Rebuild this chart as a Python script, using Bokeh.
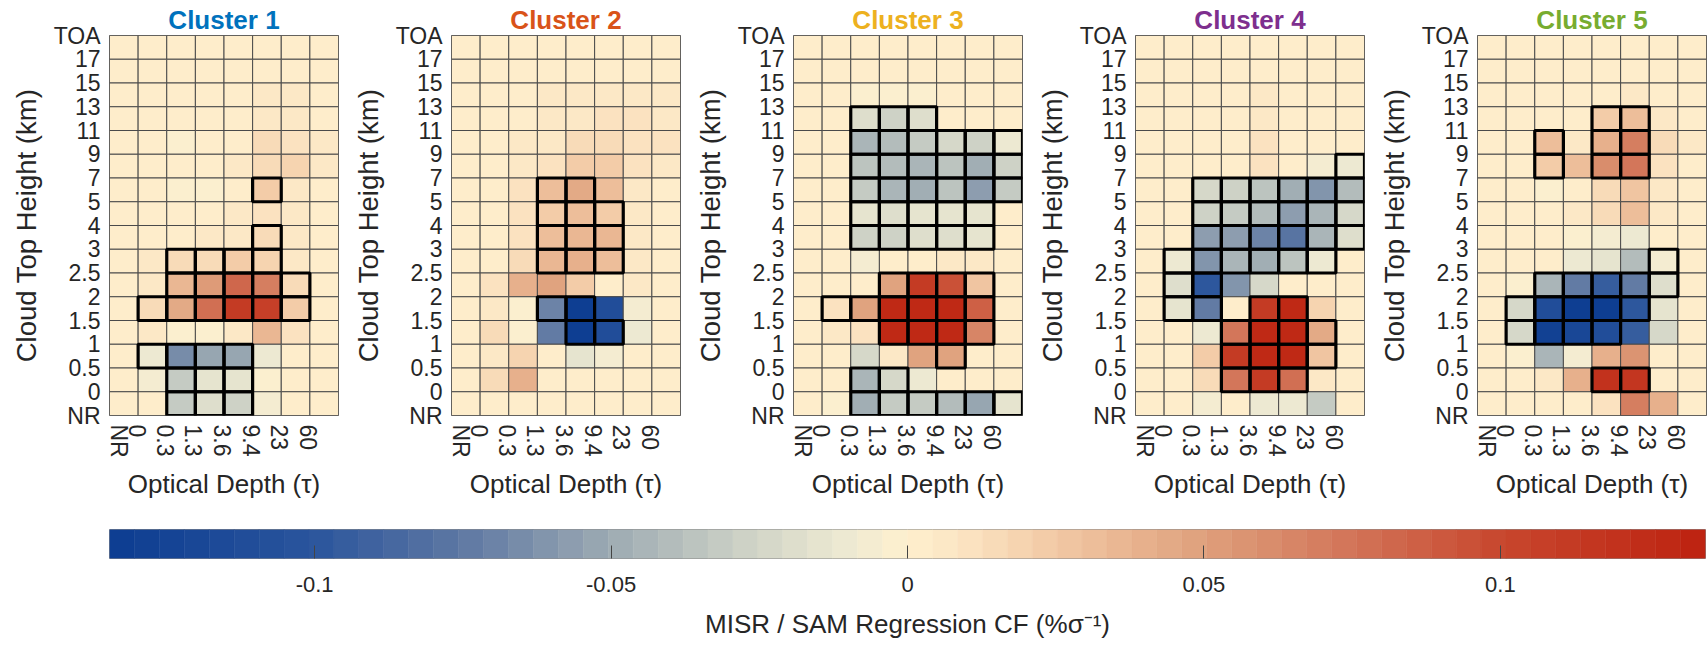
import numpy as np
from bokeh.plotting import figure
from bokeh.layouts import row, column
from bokeh.models import ColumnDataSource, FixedTicker, LinearColorMapper
from bokeh.transform import transform
from bokeh.embed import file_html
from bokeh.resources import INLINE

# ---------------------------------------------------------------------------
# MISR joint histogram bins
# ---------------------------------------------------------------------------
tau_labels = ["NR", "0", "0.3", "1.3", "3.6", "9.4", "23", "60"]
tau_tick_pos = [0.33, 0.96, 1.93, 2.93, 3.93, 4.93, 5.93, 6.93]
cth_labels = ["NR", "0", "0.5", "1", "1.5", "2", "2.5", "3", "4", "5",
              "7", "9", "11", "13", "15", "17", "TOA"]

cluster_titles = ["Cluster 1", "Cluster 2", "Cluster 3", "Cluster 4", "Cluster 5"]
cluster_colors = ["#0072BD", "#D95319", "#EDB120", "#7E2F8E", "#77AC30"]

cbar_ticks = [-0.1, -0.05, 0.0, 0.05, 0.1]
cbar_tick_labels = ["-0.1", "-0.05", "0", "0.05", "0.1"]
clim = 0.1346

# Regression coefficients, rows listed from the top (17 km-TOA) down to (NR-0),
# columns follow tau_labels.
cf_cluster1 = [
    [0.004, 0.004, 0.004, 0.004, 0.004, 0.004, 0.004, 0.003],
    [0.004, 0.004, 0.004, 0.004, 0.004, 0.004, 0.004, 0.004],
    [0.004, 0.004, 0.003, 0.003, 0.004, 0.005, 0.005, 0.004],
    [0.004, 0.004, 0.002, 0.003, 0.004, 0.006, 0.006, 0.004],
    [0.004, 0.004, -0.004, 0.001, 0.004, 0.014, 0.010, 0.005],
    [0.004, 0.004, 0.002, 0.003, 0.006, 0.016, 0.020, 0.006],
    [0.004, 0.004, -0.004, -0.004, 0.004, 0.022, 0.008, 0.004],
    [0.004, 0.004, 0.003, 0.004, 0.006, 0.012, 0.006, 0.004],
    [0.004, 0.004, 0.004, 0.005, 0.007, 0.016, 0.006, 0.004],
    [0.004, 0.005, 0.013, 0.016, 0.024, 0.018, 0.006, 0.004],
    [0.004, 0.006, 0.036, 0.054, 0.080, 0.070, 0.016, 0.004],
    [0.004, 0.016, 0.046, 0.076, 0.112, 0.106, 0.024, 0.004],
    [0.004, 0.005, -0.004, -0.002, 0.008, 0.034, 0.012, 0.004],
    [0.004, -0.010, -0.066, -0.052, -0.054, -0.010, 0.004, 0.004],
    [0.004, -0.006, -0.030, -0.016, -0.016, -0.004, 0.004, 0.004],
    [0.004, 0.003, -0.030, -0.020, -0.026, -0.006, 0.004, 0.004],
]
sig_cluster1 = [
    "........", "........", "........", "........", "........", "........",
    ".....X..", "........", ".....X..", "..XXXX..", "..XXXXX.", ".XXXXXX.",
    "........", ".XXXX...", "..XXX...", "..XXX...",
]

cf_cluster2 = [
    [0.004, 0.004, 0.004, 0.004, 0.004, 0.004, 0.004, 0.003],
    [0.004, 0.004, 0.004, 0.004, 0.004, 0.004, 0.004, 0.004],
    [0.004, 0.004, 0.004, 0.005, 0.006, 0.007, 0.006, 0.005],
    [0.004, 0.004, 0.004, 0.006, 0.008, 0.010, 0.010, 0.007],
    [0.004, 0.004, 0.005, 0.008, 0.014, 0.016, 0.012, 0.010],
    [0.004, 0.004, 0.008, 0.012, 0.024, 0.022, 0.012, 0.006],
    [0.004, 0.004, 0.012, 0.030, 0.045, 0.030, 0.005, 0.003],
    [0.004, 0.004, 0.012, 0.025, 0.030, 0.025, 0.005, 0.004],
    [0.004, 0.004, 0.012, 0.030, 0.035, 0.035, 0.005, 0.004],
    [0.004, 0.004, 0.015, 0.035, 0.040, 0.032, 0.005, 0.004],
    [0.004, 0.012, 0.040, 0.047, 0.025, 0.004, 0.005, 0.004],
    [0.004, 0.005, -0.004, -0.068, -0.132, -0.110, -0.006, 0.004],
    [0.004, 0.014, -0.002, -0.075, -0.132, -0.110, -0.010, 0.004],
    [0.004, 0.005, 0.020, 0.000, -0.016, -0.006, 0.004, 0.004],
    [0.004, 0.014, 0.042, 0.004, 0.004, 0.004, 0.004, 0.004],
    [0.004, 0.004, 0.004, 0.004, 0.004, 0.004, 0.004, 0.004],
]
sig_cluster2 = [
    "........", "........", "........", "........", "........", "........",
    "...XX...", "...XXX..", "...XXX..", "...XXX..", "........", "...XX...",
    "....XX..", "........", "........", "........",
]

cf_cluster3 = [
    [0.004, 0.004, 0.004, 0.004, 0.004, 0.004, 0.004, 0.004],
    [0.004, 0.004, 0.002, 0.002, 0.002, 0.004, 0.004, 0.004],
    [0.004, 0.004, -0.003, -0.003, -0.002, 0.004, 0.004, 0.004],
    [0.004, 0.004, -0.020, -0.028, -0.018, 0.002, 0.002, 0.003],
    [0.004, 0.004, -0.045, -0.040, -0.030, -0.022, -0.026, -0.010],
    [0.004, 0.004, -0.035, -0.042, -0.045, -0.035, -0.050, -0.028],
    [0.004, 0.004, -0.030, -0.044, -0.050, -0.035, -0.058, -0.030],
    [0.004, 0.004, -0.016, -0.020, -0.016, -0.016, -0.014, 0.003],
    [0.004, 0.004, -0.026, -0.026, -0.020, -0.020, -0.014, 0.003],
    [0.004, 0.004, -0.008, 0.002, 0.003, 0.008, 0.005, 0.004],
    [0.004, 0.004, 0.003, 0.050, 0.110, 0.095, 0.026, 0.004],
    [0.004, 0.012, 0.048, 0.130, 0.130, 0.130, 0.085, 0.004],
    [0.004, 0.006, 0.012, 0.130, 0.130, 0.128, 0.065, 0.004],
    [0.004, 0.004, -0.025, 0.006, 0.050, 0.050, 0.004, 0.004],
    [0.003, 0.003, -0.045, -0.025, -0.012, 0.003, 0.003, 0.004],
    [0.003, -0.002, -0.048, -0.030, -0.030, -0.040, -0.052, -0.015],
]
sig_cluster3 = [
    "........", "........", "........", "..XXX...", "..XXXXXX", "..XXXXXX",
    "..XXXXXX", "..XXXXX.", "..XXXXX.", "........", "...XXXX.", ".XXXXXX.",
    "...XXXX.", ".....X..", "..XX....", "..XXXXXX",
]

cf_cluster4 = [
    [0.004, 0.004, 0.004, 0.004, 0.004, 0.004, 0.004, 0.004],
    [0.004, 0.004, 0.004, 0.004, 0.004, 0.004, 0.004, 0.004],
    [0.004, 0.004, 0.004, 0.004, 0.005, 0.004, 0.004, 0.004],
    [0.004, 0.004, 0.004, 0.004, 0.006, 0.004, 0.004, 0.004],
    [0.004, 0.004, 0.004, 0.004, 0.010, 0.004, 0.004, 0.004],
    [0.004, 0.004, 0.004, 0.004, 0.010, 0.004, -0.006, -0.012],
    [0.004, 0.002, -0.025, -0.028, -0.035, -0.050, -0.062, -0.040],
    [0.004, 0.002, -0.028, -0.030, -0.038, -0.055, -0.045, -0.022],
    [0.004, 0.002, -0.055, -0.055, -0.068, -0.076, -0.045, -0.020],
    [0.004, -0.010, -0.060, -0.045, -0.050, -0.035, -0.012, 0.003],
    [0.004, -0.020, -0.100, -0.060, -0.022, 0.004, 0.002, 0.003],
    [0.004, -0.015, -0.075, 0.004, 0.110, 0.128, 0.018, 0.003],
    [0.004, 0.003, -0.012, 0.075, 0.130, 0.130, 0.045, 0.004],
    [0.004, 0.003, 0.025, 0.110, 0.130, 0.130, 0.028, 0.004],
    [0.004, 0.003, 0.015, 0.075, 0.110, 0.078, 0.006, 0.004],
    [0.004, 0.003, -0.006, 0.002, -0.010, -0.012, -0.030, 0.002],
]
sig_cluster4 = [
    "........", "........", "........", "........", "........", ".......X",
    "..XXXXXX", "..XXXXXX", "..XXXXXX", ".XXXXXX.", ".XX.....", ".XX.XX..",
    "...XXXX.", "...XXXX.", "...XXX..", "........",
]

cf_cluster5 = [
    [0.004, 0.004, 0.004, 0.004, 0.004, 0.004, 0.004, 0.004],
    [0.004, 0.004, 0.004, 0.004, 0.004, 0.004, 0.004, 0.004],
    [0.004, 0.004, 0.004, 0.004, 0.004, 0.005, 0.004, 0.004],
    [0.004, 0.004, 0.004, 0.004, 0.024, 0.030, 0.005, 0.004],
    [0.004, 0.004, 0.030, 0.008, 0.040, 0.070, 0.016, 0.005],
    [0.004, 0.004, 0.025, 0.032, 0.060, 0.075, 0.012, 0.004],
    [0.004, 0.002, -0.004, 0.004, 0.016, 0.028, 0.005, 0.004],
    [0.004, 0.004, 0.004, 0.006, 0.016, 0.030, 0.008, 0.004],
    [0.004, 0.004, 0.001, -0.002, -0.008, -0.010, 0.003, 0.004],
    [0.004, 0.004, 0.002, -0.012, -0.014, -0.038, -0.006, 0.004],
    [0.004, -0.004, -0.045, -0.075, -0.095, -0.075, -0.020, 0.004],
    [0.004, -0.025, -0.110, -0.132, -0.132, -0.100, -0.016, 0.004],
    [0.004, -0.025, -0.128, -0.120, -0.110, -0.095, -0.022, 0.004],
    [0.004, -0.002, -0.045, -0.008, 0.040, 0.055, 0.004, 0.004],
    [0.004, 0.004, 0.008, 0.040, 0.120, 0.115, 0.004, 0.004],
    [0.004, 0.004, 0.004, 0.004, 0.012, 0.070, 0.042, 0.004],
]
sig_cluster5 = [
    "........", "........", "........", "....XX..", "..X.XX..", "..X.XX..",
    "........", "........", "........", "......X.", "..XXXXX.", ".XXXXX..",
    ".XXXX...", "........", "....XX..", "........",
]

clusters = [
    (cf_cluster1, sig_cluster1),
    (cf_cluster2, sig_cluster2),
    (cf_cluster3, sig_cluster3),
    (cf_cluster4, sig_cluster4),
    (cf_cluster5, sig_cluster5),
]

# ---------------------------------------------------------------------------
# Diverging blue - cream - red colour map (64 levels)
# ---------------------------------------------------------------------------
cmap_anchors = [
    (-0.1346, "#0c3c91"), (-0.100, "#2b559d"), (-0.075, "#5e78a3"),
    (-0.050, "#9eabb3"), (-0.025, "#d3d6c8"), (-0.010, "#eeead2"),
    (0.000, "#fff0ce"), (0.010, "#fbe3c1"), (0.025, "#f2c9a5"),
    (0.050, "#dfa07c"), (0.075, "#d27458"), (0.100, "#c8472e"),
    (0.1346, "#bd2210"),
]


def _hex_to_rgb(h):
    return [int(h[i:i + 2], 16) for i in (1, 3, 5)]


def build_palette(n):
    av = np.array([a[0] for a in cmap_anchors])
    ac = np.array([_hex_to_rgb(a[1]) for a in cmap_anchors], dtype=float)
    centers = -clim + (np.arange(n) + 0.5) * (2 * clim / n)
    out = []
    for v in centers:
        rgb = [np.interp(v, av, ac[:, k]) for k in range(3)]
        out.append("#%02x%02x%02x" % tuple(int(round(c)) for c in rgb))
    return out


palette = build_palette(64)
mapper = LinearColorMapper(palette=palette, low=-clim, high=clim)

FONT = "Liberation Sans"
TEXT_COLOR = "#262626"


def make_panel(idx, values, sig, right_border):
    p = figure(
        frame_width=229, frame_height=380,
        x_range=(0, 8), y_range=(0, 16),
        min_border_left=109, min_border_right=right_border,
        min_border_top=35, min_border_bottom=85,
        toolbar_location=None, output_backend="svg",
        background_fill_color="white", border_fill_color="white",
    )
    xs, ys, vs, sx, sy = [], [], [], [], []
    n_rows = len(values)
    for j, (vals_row, sig_row) in enumerate(zip(values, sig)):
        yc = n_rows - 1 - j + 0.5
        for i, v in enumerate(vals_row):
            xs.append(i + 0.5)
            ys.append(yc)
            vs.append(v)
            if sig_row[i] == "X":
                sx.append(i + 0.5)
                sy.append(yc)
    src = ColumnDataSource(dict(x=xs, y=ys, v=vs))
    p.rect(x="x", y="y", width=1, height=1, source=src,
           fill_color=transform("v", mapper), line_color="#4a4a4a", line_width=1)
    sig_src = ColumnDataSource(dict(x=sx, y=sy))
    p.rect(x="x", y="y", width=1, height=1, source=sig_src,
           fill_color=None, line_color="black", line_width=3.2)

    p.title.text = cluster_titles[idx]
    p.title.align = "center"
    p.title.text_color = cluster_colors[idx]
    p.title.text_font = FONT
    p.title.text_font_size = "26px"
    p.title.text_font_style = "bold"
    p.title.standoff = 1

    p.grid.visible = False
    p.outline_line_color = "#555555"

    p.yaxis.ticker = FixedTicker(ticks=list(range(len(cth_labels))))
    p.yaxis.major_label_overrides = {i: lab for i, lab in enumerate(cth_labels)}
    p.yaxis.axis_label = "Cloud Top Height (km)"

    p.xaxis.ticker = FixedTicker(ticks=tau_tick_pos)
    p.xaxis.major_label_overrides = {t: lab for t, lab in zip(tau_tick_pos, tau_labels)}
    p.xaxis.major_label_orientation = "vertical"
    p.xaxis.axis_label = "Optical Depth (τ)"

    for ax in (p.xaxis[0], p.yaxis[0]):
        ax.axis_line_color = None
        ax.major_tick_line_color = None
        ax.minor_tick_line_color = None
        ax.major_tick_in = 0
        ax.major_tick_out = 0
        ax.major_label_text_font = FONT
        ax.major_label_text_font_size = "23px"
        ax.major_label_text_color = TEXT_COLOR
        ax.major_label_standoff = 9
        ax.axis_label_text_font = FONT
        ax.axis_label_text_font_size = "26px"
        ax.axis_label_text_font_style = "normal"
        ax.axis_label_text_color = TEXT_COLOR
        ax.axis_label_standoff = 8
    p.yaxis.axis_label_text_font_size = "27.5px"
    p.yaxis.axis_label_standoff = 9
    return p


panels = []
for k, (vals, sig) in enumerate(clusters):
    panels.append(make_panel(k, vals, sig, 4 if k < 4 else 2))

# ---------------------------------------------------------------------------
# Colour bar
# ---------------------------------------------------------------------------
cb = figure(
    frame_width=1596, frame_height=29,
    x_range=(-clim, clim), y_range=(0, 1),
    min_border_left=109, min_border_right=3,
    min_border_top=28, min_border_bottom=90,
    toolbar_location=None, output_backend="svg",
    background_fill_color="white", border_fill_color="white",
)
edges = np.linspace(-clim, clim, len(palette) + 1)
cb_src = ColumnDataSource(dict(left=edges[:-1], right=edges[1:], color=palette))
cb.quad(left="left", right="right", bottom=0, top=1, source=cb_src,
        fill_color="color", line_color="color", line_width=0.5)
cb.yaxis.visible = False
cb.grid.visible = False
cb.outline_line_color = "#8c8c8c"
cb.xaxis.ticker = FixedTicker(ticks=cbar_ticks)
cb.xaxis.major_label_overrides = {t: lab for t, lab in zip(cbar_ticks, cbar_tick_labels)}
cb.xaxis.axis_line_color = None
cb.xaxis.major_tick_in = 13
cb.xaxis.major_tick_out = 0
cb.xaxis.major_tick_line_color = "#444444"
cb.xaxis.minor_tick_line_color = None
cb.xaxis.major_label_text_font = FONT
cb.xaxis.major_label_text_font_size = "22px"
cb.xaxis.major_label_text_color = TEXT_COLOR
cb.xaxis.major_label_standoff = 18
cb.xaxis.axis_label = "MISR / SAM Regression CF (%σ⁻¹)"
cb.xaxis.axis_label_text_font = FONT
cb.xaxis.axis_label_text_font_size = "26px"
cb.xaxis.axis_label_text_font_style = "normal"
cb.xaxis.axis_label_text_color = TEXT_COLOR
cb.xaxis.axis_label_standoff = 14

layout = column(row(*panels, spacing=0), cb, spacing=0)

open("out.html", "w").write(file_html(layout, INLINE))
